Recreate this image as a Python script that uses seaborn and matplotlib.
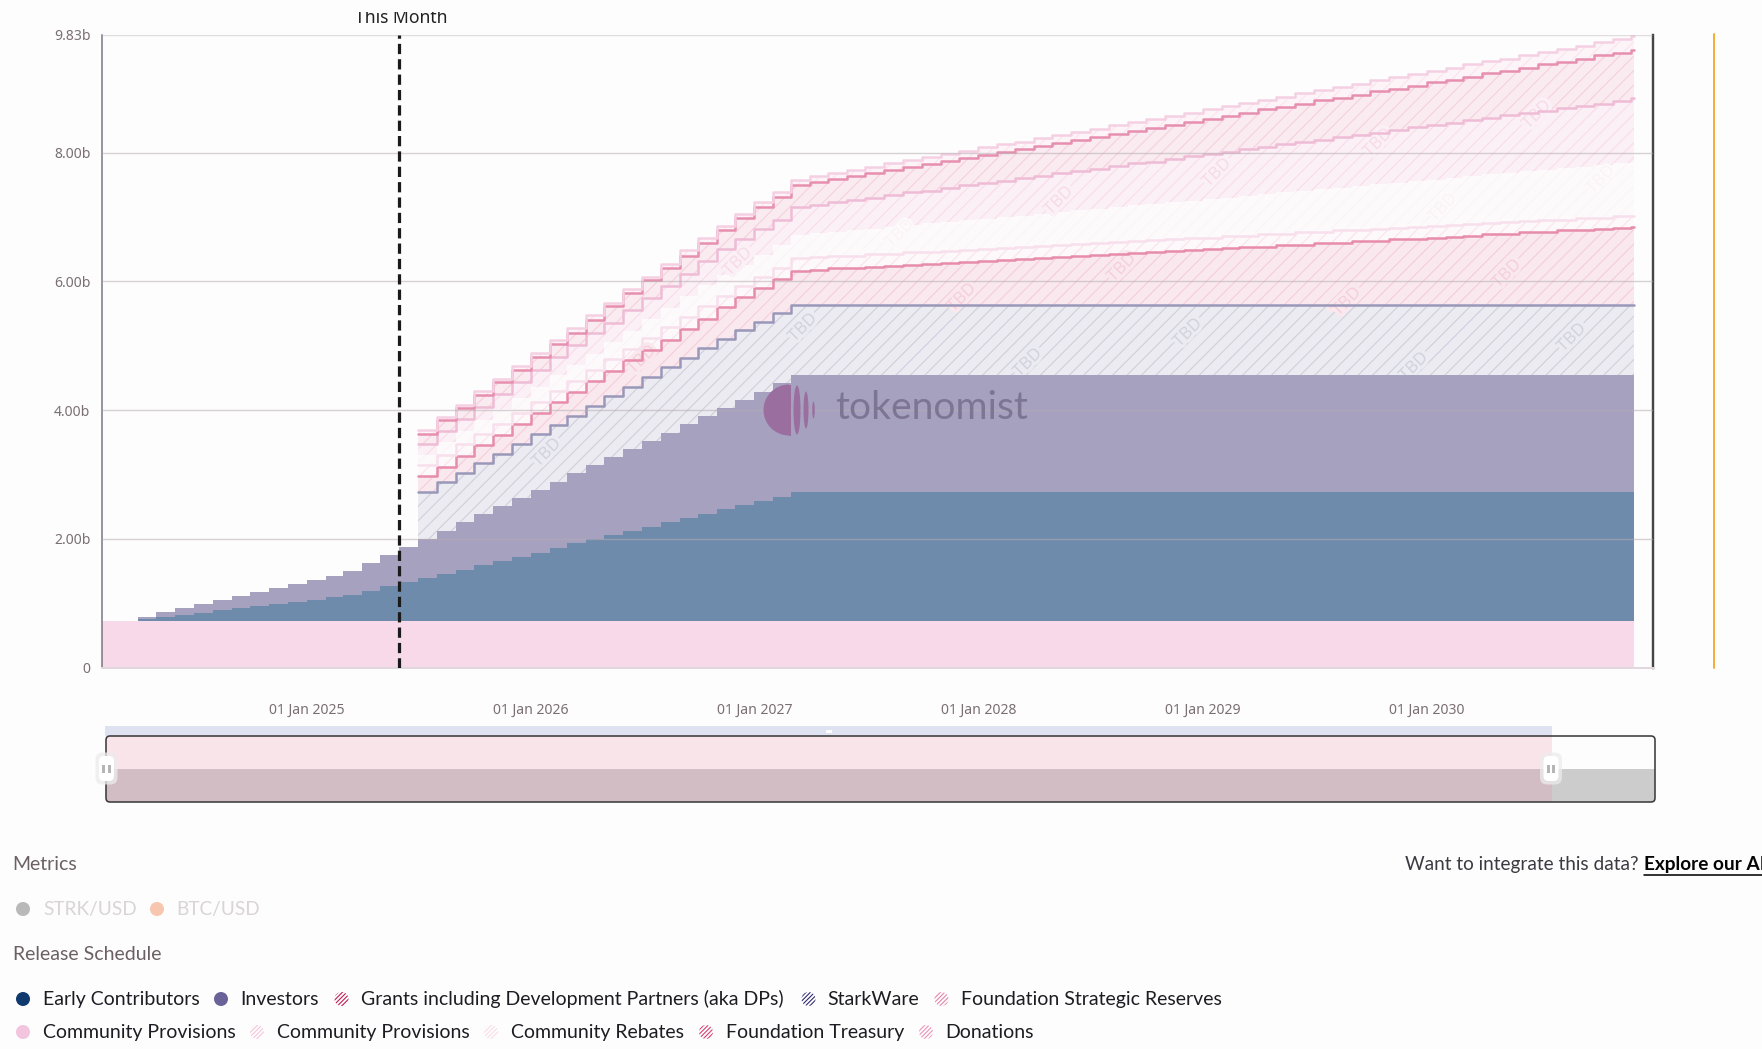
#!/usr/bin/env python3
"""Token release schedule, stacked monthly steps with hatched TBD layers."""

import matplotlib
matplotlib.use("Agg")
import matplotlib.dates as mdates
import matplotlib.patheffects as pe
import matplotlib.pyplot as plt
import pandas as pd
import seaborn as sns
from matplotlib.lines import Line2D
from matplotlib.patches import Circle, Ellipse, FancyBboxPatch, Rectangle, Wedge
from matplotlib.transforms import Bbox, IdentityTransform

WIDTH, HEIGHT, DPI = 1762, 1049, 130
BG = "#fdfdfd"

# cumulative tops in billions, monthly
base_value = [0.73]
early_contributors = [
    0.751, 0.787, 0.823, 0.854, 0.901, 0.926, 0.963, 0.989, 1.020, 1.051, 1.097, 1.123,
    1.196, 1.263, 1.330, 1.398, 1.460, 1.522, 1.588, 1.655, 1.721, 1.787, 1.854, 1.932,
    1.994, 2.061, 2.123, 2.189, 2.258, 2.325, 2.392, 2.459, 2.527, 2.594, 2.656, 2.728,
]
investors = [
    0.792, 0.859, 0.921, 0.983, 1.046, 1.108, 1.170, 1.237, 1.299, 1.361, 1.429, 1.496,
    1.620, 1.749, 1.879, 2.003, 2.128, 2.258, 2.387, 2.513, 2.636, 2.766, 2.889, 3.018,
    3.148, 3.277, 3.402, 3.526, 3.650, 3.780, 3.909, 4.033, 4.158, 4.287, 4.417, 4.546,
]
starkware = [
    2.734, 2.879, 3.029, 3.174, 3.324, 3.474, 3.624, 3.769, 3.913, 4.063, 4.214,
    4.364, 4.514, 4.664, 4.814, 4.959, 5.109, 5.244, 5.373, 5.503, 5.632,
]
grants = [
    2.97, 3.12, 3.29, 3.46, 3.62, 3.78, 3.95, 4.12, 4.28, 4.45, 4.61, 4.78, 4.93, 5.09,
    5.26, 5.42, 5.60, 5.75, 5.89, 6.03, 6.165,
    6.18, 6.20, 6.21, 6.23, 6.24, 6.26, 6.27, 6.29, 6.30, 6.32, 6.33, 6.35, 6.36, 6.38, 6.39,
    6.41, 6.42, 6.44, 6.45, 6.47, 6.48, 6.50, 6.51, 6.53, 6.54, 6.56, 6.57, 6.59, 6.60, 6.62,
    6.63, 6.65, 6.66, 6.68, 6.69, 6.71, 6.73, 6.74, 6.76, 6.77, 6.79, 6.80, 6.82, 6.83, 6.85,
]
community_hatched = [
    3.15, 3.30, 3.47, 3.63, 3.78, 3.95, 4.13, 4.29, 4.45, 4.62, 4.79, 4.95, 5.12, 5.29,
    5.45, 5.62, 5.77, 5.92, 6.07, 6.21, 6.36,
    6.37, 6.39, 6.40, 6.42, 6.43, 6.45, 6.46, 6.47, 6.49, 6.50, 6.52, 6.53, 6.55, 6.56, 6.58,
    6.59, 6.61, 6.62, 6.64, 6.65, 6.67, 6.68, 6.70, 6.71, 6.73, 6.74, 6.76, 6.77, 6.79, 6.80,
    6.82, 6.83, 6.84, 6.86, 6.87, 6.89, 6.90, 6.92, 6.93, 6.95, 6.96, 6.98, 6.99, 7.01, 7.02,
]
rebates = [
    3.30, 3.50, 3.67, 3.84, 4.01, 4.19, 4.36, 4.54, 4.70, 4.87, 5.05, 5.23, 5.41, 5.59,
    5.77, 5.94, 6.10, 6.25, 6.41, 6.56, 6.72,
    6.75, 6.77, 6.80, 6.82, 6.85, 6.87, 6.90, 6.92, 6.95, 6.97, 7.00, 7.02, 7.05, 7.07, 7.10,
    7.13, 7.15, 7.18, 7.20, 7.23, 7.25, 7.28, 7.30, 7.33, 7.35, 7.38, 7.40, 7.43, 7.45, 7.48,
    7.51, 7.53, 7.56, 7.58, 7.61, 7.63, 7.66, 7.68, 7.71, 7.73, 7.76, 7.78, 7.81, 7.83, 7.86,
]
strategic_reserves = [
    3.48, 3.67, 3.86, 4.05, 4.25, 4.44, 4.63, 4.82, 5.01, 5.19, 5.36, 5.56, 5.74, 5.92,
    6.12, 6.32, 6.50, 6.66, 6.82, 6.96, 7.15,
    7.19, 7.23, 7.26, 7.30, 7.34, 7.38, 7.41, 7.45, 7.49, 7.53, 7.56, 7.60, 7.64, 7.68, 7.71,
    7.75, 7.79, 7.83, 7.86, 7.90, 7.94, 7.98, 8.01, 8.05, 8.09, 8.13, 8.16, 8.20, 8.24, 8.28,
    8.31, 8.35, 8.39, 8.43, 8.46, 8.50, 8.54, 8.58, 8.61, 8.65, 8.69, 8.73, 8.76, 8.80, 8.84,
]
treasury = [
    3.63, 3.84, 4.03, 4.24, 4.43, 4.63, 4.83, 5.02, 5.20, 5.40, 5.62, 5.82, 6.02, 6.20,
    6.39, 6.60, 6.80, 6.98, 7.16, 7.31, 7.50,
    7.54, 7.59, 7.64, 7.68, 7.73, 7.78, 7.82, 7.87, 7.92, 7.96, 8.01, 8.06, 8.10, 8.15, 8.20,
    8.24, 8.29, 8.34, 8.38, 8.43, 8.48, 8.52, 8.57, 8.62, 8.67, 8.71, 8.76, 8.81, 8.85, 8.90,
    8.95, 8.99, 9.04, 9.09, 9.13, 9.18, 9.23, 9.27, 9.32, 9.37, 9.41, 9.46, 9.51, 9.55, 9.60,
]
donations = [
    3.69, 3.89, 4.08, 4.29, 4.49, 4.69, 4.89, 5.09, 5.27, 5.48, 5.67, 5.88, 6.07, 6.27,
    6.48, 6.67, 6.86, 7.05, 7.23, 7.39, 7.58,
    7.63, 7.68, 7.73, 7.78, 7.83, 7.88, 7.93, 7.98, 8.03, 8.08, 8.13, 8.17, 8.22, 8.27, 8.32,
    8.37, 8.42, 8.47, 8.52, 8.57, 8.62, 8.67, 8.72, 8.77, 8.82, 8.87, 8.92, 8.97, 9.02, 9.07,
    9.12, 9.17, 9.22, 9.27, 9.32, 9.37, 9.42, 9.46, 9.51, 9.56, 9.61, 9.66, 9.71, 9.76, 9.81,
]

y_ticks = [0, 2, 4, 6, 8, 9.83]
y_tick_labels = ["0", "2.00b", "4.00b", "6.00b", "8.00b", "9.83b"]
x_ticks = ["2025-01-01", "2026-01-01", "2027-01-01", "2028-01-01", "2029-01-01", "2030-01-01"]
x_tick_labels = ["01 Jan 2025", "01 Jan 2026", "01 Jan 2027", "01 Jan 2028", "01 Jan 2029", "01 Jan 2030"]
last_date = "2030-12-06"

# name, first month, values, fill, hatch colour, line colour
layers = [
    ("Community Provisions", "2024-02-01", base_value, "#f7d9ea", None, None),
    ("Early Contributors", "2024-04-01", early_contributors, "#6e8bab", None, None),
    ("Investors", "2024-04-01", investors, "#a6a1bf", None, None),
    ("StarkWare", "2025-07-01", starkware, "#ebebf1", "#cfcfdd", "#9a98b8"),
    ("Grants", "2025-07-01", grants, "#f9e9ee", "#f6ccd9", "#e78cab"),
    ("Community Provisions (TBD)", "2025-07-01", community_hatched, "#fdf8fa", "#fae3ec", "#f8dfec"),
    ("Community Rebates", "2025-07-01", rebates, "#fdfafb", "#fcf5f7", None),
    ("Foundation Strategic Reserves", "2025-07-01", strategic_reserves, "#fbf0f6", "#f9dce9", "#efbcd6"),
    ("Foundation Treasury", "2025-07-01", treasury, "#f9ebf0", "#f6d0dc", "#e78fae"),
    ("Donations", "2025-07-01", donations, "#fdf4f8", "#fbe3ee", "#f5d0e3"),
]

# TBD watermarks, pixel centres
tbd_marks = [
    ((547, 453), "#d3d3df", "#ebebf1"), ((803, 328), "#d3d3df", "#ebebf1"), ((1028, 363), "#d3d3df", "#ebebf1"),
    ((1188, 333), "#d3d3df", "#ebebf1"), ((1414, 367), "#d3d3df", "#ebebf1"), ((1572, 338), "#d3d3df", "#ebebf1"),
    ((642, 360), "#f6cfdb", "#f9e9ee"), ((962, 298), "#f6cfdb", "#f9e9ee"), ((1122, 268), "#f6cfdb", "#f9e9ee"),
    ((1347, 302), "#f6cfdb", "#f9e9ee"), ((1507, 274), "#f6cfdb", "#f9e9ee"),
    ((738, 262), "#f7dbe7", "#fbf0f6"), ((1059, 201), "#f7dbe7", "#fbf0f6"), ((1217, 173), "#f7dbe7", "#fbf0f6"),
    ((1378, 143), "#f7dbe7", "#fbf0f6"), ((1537, 115), "#f7dbe7", "#fbf0f6"),
    ((900, 234), "#fbf3f5", "#fdfafb"), ((1443, 208), "#fbf3f5", "#fdfafb"), ((1601, 180), "#fbf3f5", "#fdfafb"),
]

# label, dot x, text x, y, colour, hatched
legend_items = [
    ("Early Contributors", 23, 43, 999, "#10396e", False),
    ("Investors", 221, 240.5, 999, "#6a6399", False),
    ("Grants including Development Partners (aka DPs)", 341.5, 361, 999, "#c01d54", True),
    ("StarkWare", 808.5, 827.5, 999, "#2f2a6e", True),
    ("Foundation Strategic Reserves", 941.5, 961, 999, "#e683ae", True),
    ("Community Provisions", 23, 43, 1032, "#f3c4de", False),
    ("Community Provisions", 257, 277, 1032, "#f5c5dc", True),
    ("Community Rebates", 491, 510.5, 1032, "#f9dde6", True),
    ("Foundation Treasury", 706, 726, 1032, "#d73f72", True),
    ("Donations", 926, 945.5, 1032, "#ec90bd", True),
]


def fx(x):
    return x / WIDTH


def fy(y):
    return 1 - y / HEIGHT


def pts(px):
    return px * 72 / DPI


def build_tops():
    months = pd.date_range("2024-02-01", "2030-12-01", freq="MS")
    months = months.append(pd.DatetimeIndex([last_date]))
    tops = pd.DataFrame(index=months)
    for name, start, values, *_ in layers:
        idx = pd.date_range(start, periods=len(values), freq="MS")
        tops[name] = pd.Series(values, index=idx).reindex(months).ffill()
    return tops


def draw_chart(fig, ax):
    tops = build_tops()
    lower = pd.Series(0.0, index=tops.index)
    for name, _, _, fill, hatch, _ in layers:
        mask = tops[name].notna()
        # solid layers sit above the TBD text so its halo stays in the hatched bands
        kw = {"hatch": "///", "edgecolor": hatch, "zorder": 1} if hatch else {"edgecolor": "none", "zorder": 1.6}
        ax.fill_between(tops.index[mask], lower[mask], tops[name][mask], step="post",
                        facecolor=fill, linewidth=0, **kw)
        lower = tops[name].fillna(lower)

    line_names = [layer[0] for layer in layers if layer[5]]
    long = tops[line_names].reset_index(names="date").melt("date", var_name="layer", value_name="value").dropna()
    sns.lineplot(data=long, x="date", y="value", hue="layer", estimator=None, sort=False,
                 palette={layer[0]: layer[5] for layer in layers if layer[5]},
                 drawstyle="steps-post", linewidth=pts(2.5), legend=False, zorder=2, ax=ax)

    for (x, y), colour, face in tbd_marks:
        halo = 4 if face == "#fdfafb" else 7
        ax.text(fx(x), fy(y), "TBD", transform=fig.transFigure, rotation=45, ha="center", va="center",
                fontsize=pts(17), color=colour, zorder=1.5,
                path_effects=[pe.withStroke(linewidth=pts(halo), foreground=face)])

    origin = mdates.date2num(pd.Timestamp("2025-01-01"))
    ax.set_xlim(origin - 333.3, origin + 2194.7)
    ax.set_ylim(0, 9.83)
    ax.set_xticks(pd.to_datetime(x_ticks), x_tick_labels)
    ax.set_yticks(y_ticks, y_tick_labels)
    ax.set_xlabel("")
    ax.set_ylabel("")
    ax.grid(False)
    for value in y_ticks[1:]:
        ax.axhline(value, color="#b8adb3", alpha=0.55 if value < 9 else 0.4, linewidth=pts(1.4), zorder=3)

    ax.axvline(pd.Timestamp("2025-06-01"), color="#1a1a1a", linewidth=pts(3.2),
               dashes=(3.2, 1.6), zorder=4)
    ax.tick_params(axis="x", length=pts(6), width=pts(1.2), color="#d8d2d5", pad=pts(29),
                   labelsize=pts(14), labelcolor="#7b6f74")
    ax.tick_params(axis="y", length=0, pad=pts(12), labelsize=pts(14), labelcolor="#7b6f74")
    ax.spines["left"].set(color="#77747f", linewidth=pts(1.5))
    ax.spines["bottom"].set(color="#e0d8dc", linewidth=pts(2))
    ax.spines["right"].set(visible=True, color="#444444", linewidth=pts(2.4))
    ax.spines["top"].set_visible(False)
    ax.set_facecolor(BG)

    label = fig.text(fx(401), fy(18), "This Month", ha="center", va="center", fontsize=pts(17.5), color="#222222")
    label.set_clip_box(Bbox([[0, 0], [WIDTH, HEIGHT - 11.5]]))
    label.set_clip_on(True)

    fig.add_artist(Line2D([fx(1714), fx(1714)], [fy(34), fy(668)], color="#f5a623", linewidth=pts(1.8)))


def draw_watermark(fig):
    px = IdentityTransform()
    purple = "#9a6e9f"
    yc = HEIGHT - 410
    fig.add_artist(Wedge((789, yc), 25.5, 90, 270, facecolor=purple, edgecolor="none", transform=px, zorder=5))
    fig.add_artist(Rectangle((789, yc - 25.5), 2, 51, facecolor=purple, edgecolor="none", transform=px, zorder=5))
    for x, w, h in [(797, 7, 49), (806, 5, 37), (813.5, 2.5, 17)]:
        fig.add_artist(Ellipse((x, yc), w, h, facecolor=purple, edgecolor="none", transform=px, zorder=5))
    fig.text(fx(835), fy(408), "tokenomist", ha="left", va="center", fontsize=pts(39), family="Lato",
             color="#7d7594", zorder=5)


def draw_slider(fig):
    px = IdentityTransform()
    left, right, pink_end, top, mid, bottom = 106, 1655, 1552, 736, 768.5, 802
    boxes = [
        (105, pink_end, 726, top, "#dfe3f1"),
        (left, pink_end, top, mid, "#f9e4ea"),
        (left, pink_end, mid, bottom, "#d3bdc5"),
        (pink_end, right, mid, bottom, "#cccccc"),
    ]
    for x0, x1, y0, y1, colour in boxes:
        fig.add_artist(Rectangle((x0, HEIGHT - y1), x1 - x0, y1 - y0, facecolor=colour, edgecolor="none", transform=px))
    fig.add_artist(FancyBboxPatch((left, HEIGHT - bottom), right - left, bottom - top,
                                  boxstyle="round,pad=0,rounding_size=4", facecolor="none",
                                  edgecolor="#3d3d3d", linewidth=pts(1.6), transform=px, zorder=3))
    fig.add_artist(Rectangle((826, HEIGHT - 733), 6, 3, facecolor="#fdfdfd", edgecolor="none", transform=px, zorder=4))
    for xc in (106.5, 1551):
        fig.add_artist(FancyBboxPatch((xc - 11, HEIGHT - 768.5 - 16), 22, 32, boxstyle="round,pad=0,rounding_size=7",
                                      facecolor="#ececec", alpha=0.75, edgecolor="none", transform=px, zorder=4))
        fig.add_artist(FancyBboxPatch((xc - 7.5, HEIGHT - 768.5 - 12.5), 15, 25, boxstyle="round,pad=0,rounding_size=5",
                                      facecolor="white", edgecolor="none", transform=px, zorder=5))
        for dx in (-2.7, 2.7):
            fig.add_artist(Rectangle((xc + dx - 1.5, HEIGHT - 768.5 - 4), 3, 8, facecolor="#b5b5b5", edgecolor="none",
                                     transform=px, zorder=6))


def draw_legend(fig):
    px = IdentityTransform()
    font = dict(family="Lato", va="center", ha="left")
    fig.text(fx(12.5), fy(864), "Metrics", fontsize=pts(19.5), color="#6b6064", **font)
    fig.text(fx(12.5), fy(954), "Release Schedule", fontsize=pts(19.5), color="#6b6064", **font)
    for x_dot, x_text, label, colour in [(23, 43, "STRK/USD", "#b9b9b9"), (157, 176.5, "BTC/USD", "#f6c6ae")]:
        fig.add_artist(Circle((x_dot, HEIGHT - 909), 7, facecolor=colour, edgecolor="none", transform=px))
        fig.text(fx(x_text), fy(909), label, fontsize=pts(19), color="#d9d4d6", **font)
    for label, x_dot, x_text, y, colour, hatched in legend_items:
        if hatched:
            fig.add_artist(Circle((x_dot, HEIGHT - y), 7, facecolor=BG, edgecolor=colour, linewidth=0,
                                  hatch="//////////", transform=px))
        else:
            fig.add_artist(Circle((x_dot, HEIGHT - y), 7, facecolor=colour, edgecolor="none", transform=px))
        fig.text(fx(x_text), fy(y), label, fontsize=pts(19.5), color="#1c1c22", **font)
    fig.text(fx(1404.5), fy(864), "Want to integrate this data?", fontsize=pts(19), color="#3a3a42", **font)
    fig.text(fx(1644), fy(864), "Explore our API", fontsize=pts(19), color="#050505", fontweight="bold", **font)
    fig.add_artist(Line2D([fx(1644), fx(1762)], [fy(875), fy(875)], color="#050505", linewidth=pts(1.6)))


def main():
    sns.set_theme(style="white")
    plt.rcParams["font.family"] = ["Noto Sans", "DejaVu Sans"]
    plt.rcParams["hatch.linewidth"] = pts(1.1)
    plt.rcParams["figure.facecolor"] = BG
    plt.rcParams["savefig.facecolor"] = BG

    fig = plt.figure(figsize=((WIDTH + 0.01) / DPI, (HEIGHT + 0.01) / DPI), dpi=DPI)
    ax = fig.add_axes([fx(102.3), fy(667.7), fx(1652.7 - 102.3), (667.7 - 34.7) / HEIGHT])
    draw_chart(fig, ax)
    draw_watermark(fig)
    draw_slider(fig)
    draw_legend(fig)
    fig.savefig("out.png", dpi=DPI)


if __name__ == "__main__":
    main()
